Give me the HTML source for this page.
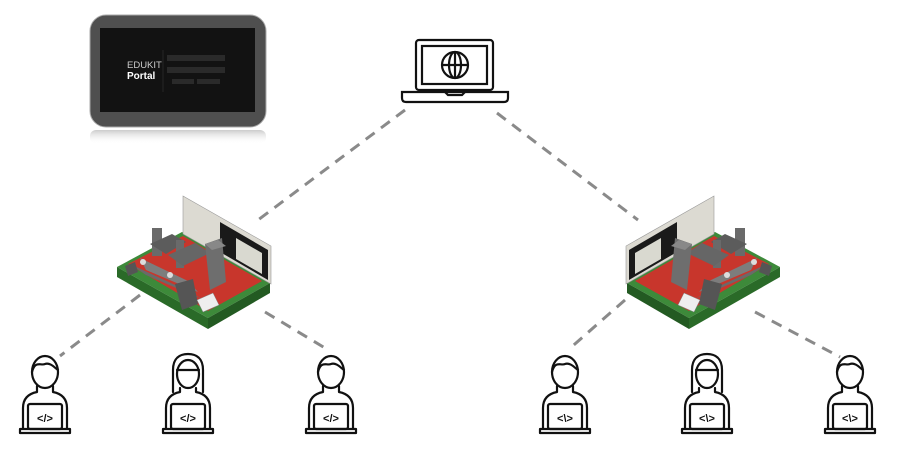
<!DOCTYPE html>
<html><head><style>
html,body{margin:0;padding:0;background:#fff;width:900px;height:454px;overflow:hidden;font-family:"Liberation Sans",sans-serif}
</style></head><body>
<svg width="900" height="454" viewBox="0 0 900 454" xmlns="http://www.w3.org/2000/svg">
<defs>
<linearGradient id="refl" x1="0" y1="0" x2="0" y2="1"><stop offset="0" stop-color="#999" stop-opacity="0.5"/><stop offset="1" stop-color="#fff" stop-opacity="0"/></linearGradient>
<g id="machine">
  <polygon points="117,267 182,232 270,283 208,318" fill="#3d8a3a"/>
  <polygon points="117,267 208,318 208,329 117,277" fill="#2a6a28"/>
  <polygon points="208,318 270,283 270,293 208,329" fill="#235a22"/>
  <polygon points="128,264 183,236 262,281 208,311" fill="#c8362c"/>
  <polygon points="183,196 271,246 271,284 183,234" fill="#dcdad2" stroke="#999" stroke-width="0.6"/>
  <polygon points="220,222 268,250 268,280 220,252" fill="#1a1a1a"/>
  <polygon points="236,238 262,253 262,274 236,259" fill="#d9d9d0"/>
  <rect x="152" y="228" width="10" height="28" fill="#6a6a6a"/>
  <polygon points="150,244 172,234 186,242 166,254" fill="#5c5c5c"/>
  <rect x="176" y="240" width="8" height="28" fill="#6a6a6a"/>
  <polygon points="168,255 195,243 210,253 183,266" fill="#666"/>
  <polygon points="205,244 222,238 226,282 210,290" fill="#6e6e6e"/>
  <polygon points="205,244 218,240 226,246 212,250" fill="#888"/>
  <polygon points="130,264 186,290 202,299 146,275" fill="#6a6a6a"/>
  <polygon points="140,258 188,281 198,292 146,270" fill="#7d7d7d"/>
  <polygon points="175,284 193,279 198,304 182,310" fill="#555"/>
  <polygon points="197,300 213,293 219,305 203,312" fill="#eee" stroke="#888" stroke-width="0.5"/>
  <circle cx="143" cy="262" r="3" fill="#ddd"/>
  <circle cx="170" cy="275" r="3" fill="#ddd"/>
  <polygon points="125,266 135,262 138,272 128,276" fill="#555"/>
</g>
<g id="person" fill="none" stroke="#111" stroke-width="2.2" stroke-linejoin="round" stroke-linecap="round">
  <ellipse cx="30" cy="22" rx="13" ry="16"/>
  <path d="M17,22 C20,10 26,16 30,14 C35,12 40,18 43,20"/>
  <path d="M22,36 L22,42 C12,44 8,50 8,58 L8,78"/>
  <path d="M38,36 L38,42 C48,44 52,50 52,58 L52,78"/>
  <rect x="13" y="54" width="34" height="25" rx="2"/>
  <path d="M5,79 L55,79 L55,83 L5,83 Z"/>
</g>
<g id="personF" fill="none" stroke="#111" stroke-width="2.2" stroke-linejoin="round" stroke-linecap="round">
  <path d="M15,42 L15,20 C15,8 22,4 30,4 C38,4 45,8 45,20 L45,42"/>
  <ellipse cx="30" cy="24" rx="11" ry="14"/>
  <path d="M19,20 L41,20"/>
  <path d="M22,38 L22,42 C12,44 8,50 8,58 L8,78"/>
  <path d="M38,38 L38,42 C48,44 52,50 52,58 L52,78"/>
  <rect x="13" y="54" width="34" height="25" rx="2"/>
  <path d="M5,79 L55,79 L55,83 L5,83 Z"/>
</g>
</defs>

<g stroke="#8a8a8a" stroke-width="3" stroke-dasharray="11,8" fill="none">
  <line x1="405" y1="110" x2="258" y2="220"/>
  <line x1="497" y1="113" x2="638" y2="220"/>
  <line x1="140" y1="295" x2="60" y2="356"/>
  <line x1="265" y1="312" x2="325" y2="348"/>
  <line x1="625" y1="300" x2="568" y2="350"/>
  <line x1="755" y1="312" x2="840" y2="357"/>
</g>

<rect x="90" y="130" width="176" height="14" rx="6" fill="url(#refl)"/>
<rect x="90" y="15" width="176" height="112" rx="16" fill="#4f4f4f" stroke="#aaa" stroke-width="1"/>
<rect x="100" y="28" width="155" height="84" fill="#121212"/>
<text x="127" y="68" font-size="9.5" fill="#ccc">EDUKIT</text>
<text x="127" y="79" font-size="10" font-weight="bold" fill="#fff">Portal</text>
<line x1="163" y1="50" x2="163" y2="92" stroke="#333" stroke-width="0.6"/>
<rect x="167" y="55" width="58" height="6" fill="#2a2a2a"/>
<rect x="167" y="67" width="58" height="6" fill="#2a2a2a"/>
<rect x="172" y="79" width="22" height="5" fill="#2a2a2a"/>
<rect x="197" y="79" width="23" height="5" fill="#2a2a2a"/>

<g fill="none" stroke="#111" stroke-width="2.2">
  <rect x="416" y="40" width="77" height="50" rx="3"/>
  <rect x="422" y="46" width="65" height="38"/>
  <path d="M402,92 L508,92 L508,98 Q508,102 504,102 L406,102 Q402,102 402,98 Z"/>
  <path d="M445,92 L448,95 L462,95 L465,92"/>
  <circle cx="455" cy="65" r="13"/>
  <ellipse cx="455" cy="65" rx="6" ry="13"/>
  <line x1="442" y1="65" x2="468" y2="65"/>
  <line x1="455" y1="52" x2="455" y2="78"/>
</g>

<use href="#machine"/>
<use href="#machine" transform="translate(897,0) scale(-1,1)"/>

<use href="#person" transform="translate(15,350)"/>
<use href="#personF" transform="translate(158,350)"/>
<use href="#person" transform="translate(301,350)"/>
<use href="#person" transform="translate(535,350)"/>
<use href="#personF" transform="translate(677,350)"/>
<use href="#person" transform="translate(820,350)"/>
<g font-size="11" font-weight="bold" fill="#111" text-anchor="middle">
  <text x="45" y="422">&lt;/&gt;</text>
  <text x="188" y="422">&lt;/&gt;</text>
  <text x="331" y="422">&lt;/&gt;</text>
  <text x="565" y="422">&lt;\&gt;</text>
  <text x="707" y="422">&lt;\&gt;</text>
  <text x="850" y="422">&lt;\&gt;</text>
</g>
</svg>
</body></html>
